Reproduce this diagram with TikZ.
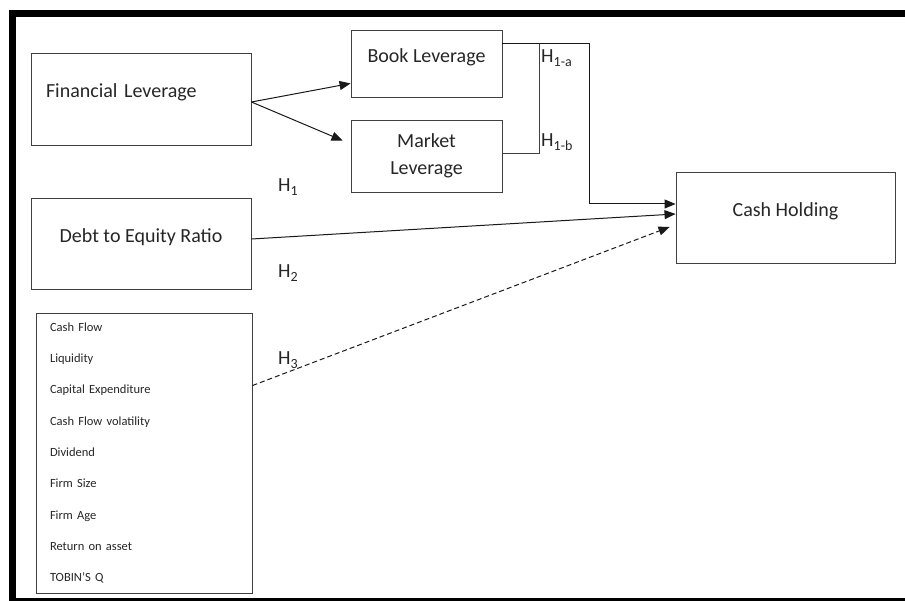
\documentclass[tikz,border=0pt]{standalone}
\usepackage{fontspec}
\setmainfont{Carlito}
\usetikzlibrary{arrows.meta}

\begin{document}
\begin{tikzpicture}[
        x=1pt, y=-1pt,
        every node/.style={text=black!85},
        box/.style={draw=black!75, line width=0.9pt, inner sep=0pt, font=\fontsize{20}{27}\selectfont},
        lifted/.style={text height=13pt, text depth=15pt}, % text sits a bit above the middle
        hyp/.style={anchor=base west, inner sep=0pt, font=\fontsize{20}{24}\selectfont},
        link/.style={-{Triangle[length=11pt,width=9pt]}, line width=1pt, draw=black!90}
    ]
    \useasboundingbox (0,0) rectangle (905,601);
    % page frame
    \fill (9,10) rectangle (905,17);
    \fill (9,10) rectangle (16,601);
    \fill (9,598) rectangle (905,601);

    % variables
    \node[box, lifted, minimum width=220pt, minimum height=92pt, text width=190pt, inner xsep=15pt, align=left] (fin) at (141,99) {Financial Leverage};
    \node[box, lifted, minimum width=151pt, minimum height=67pt] (book) at (426.5,63.5) {Book Leverage};
    \node[box, minimum width=151pt, minimum height=72pt, align=center] (mkt) at (426.5,156) {Market\\Leverage};
    \node[box, lifted, minimum width=220pt, minimum height=91pt] (debt) at (141,243.5) {Debt to Equity Ratio};
    \node[box, lifted, minimum width=219pt, minimum height=91pt] (cash) at (785.5,217.5) {Cash Holding};
    \node[box, minimum width=216pt, minimum height=280pt, text width=188pt, inner xsep=14pt, align=left,
          font=\fontsize{12.5}{31.3}\selectfont] (ctrl) at (144,453) {Cash Flow\\
        Liquidity\\
        Capital Expenditure\\
        Cash Flow volatility\\
        Dividend\\
        Firm Size\\
        Firm Age\\
        Return on asset\\
        TOBIN’S Q};

    % hypotheses
    \node[hyp] (h1) at (278,192) {H\textsubscript{1}};
    \node[hyp] (h2) at (278,278) {H\textsubscript{2}};
    \node[hyp] (h3) at (278,365) {H\textsubscript{3}};
    \node[hyp] (h1a) at (541,63) {H\textsubscript{1-a}};
    \node[hyp] (h1b) at (541,147) {H\textsubscript{1-b}};

    % connectors
    \coordinate (topA) at (539,44);
    \coordinate (turn) at (589,204);
    \draw[link] ([yshift=-3pt]fin.east) -- ([yshift=14pt]book.south west);
    \draw[link] ([yshift=-3pt]fin.east) -- ([xshift=-8pt,yshift=-21pt]mkt.north west);
    \draw[line width=0.9pt, draw=black!75] ([yshift=3pt]mkt.east) -| (topA);
    \draw[link] ([yshift=-14pt]book.north east) -| (turn) -- (cash.west |- turn);
    \draw[link] ([yshift=4.5pt]debt.east) -- ([yshift=3.5pt]cash.west);
    \draw[link, dash pattern=on 5pt off 3pt] ([yshift=-73pt]ctrl.north east) -- ([xshift=-6pt,yshift=-9.5pt]cash.west);
\end{tikzpicture}
\end{document}
